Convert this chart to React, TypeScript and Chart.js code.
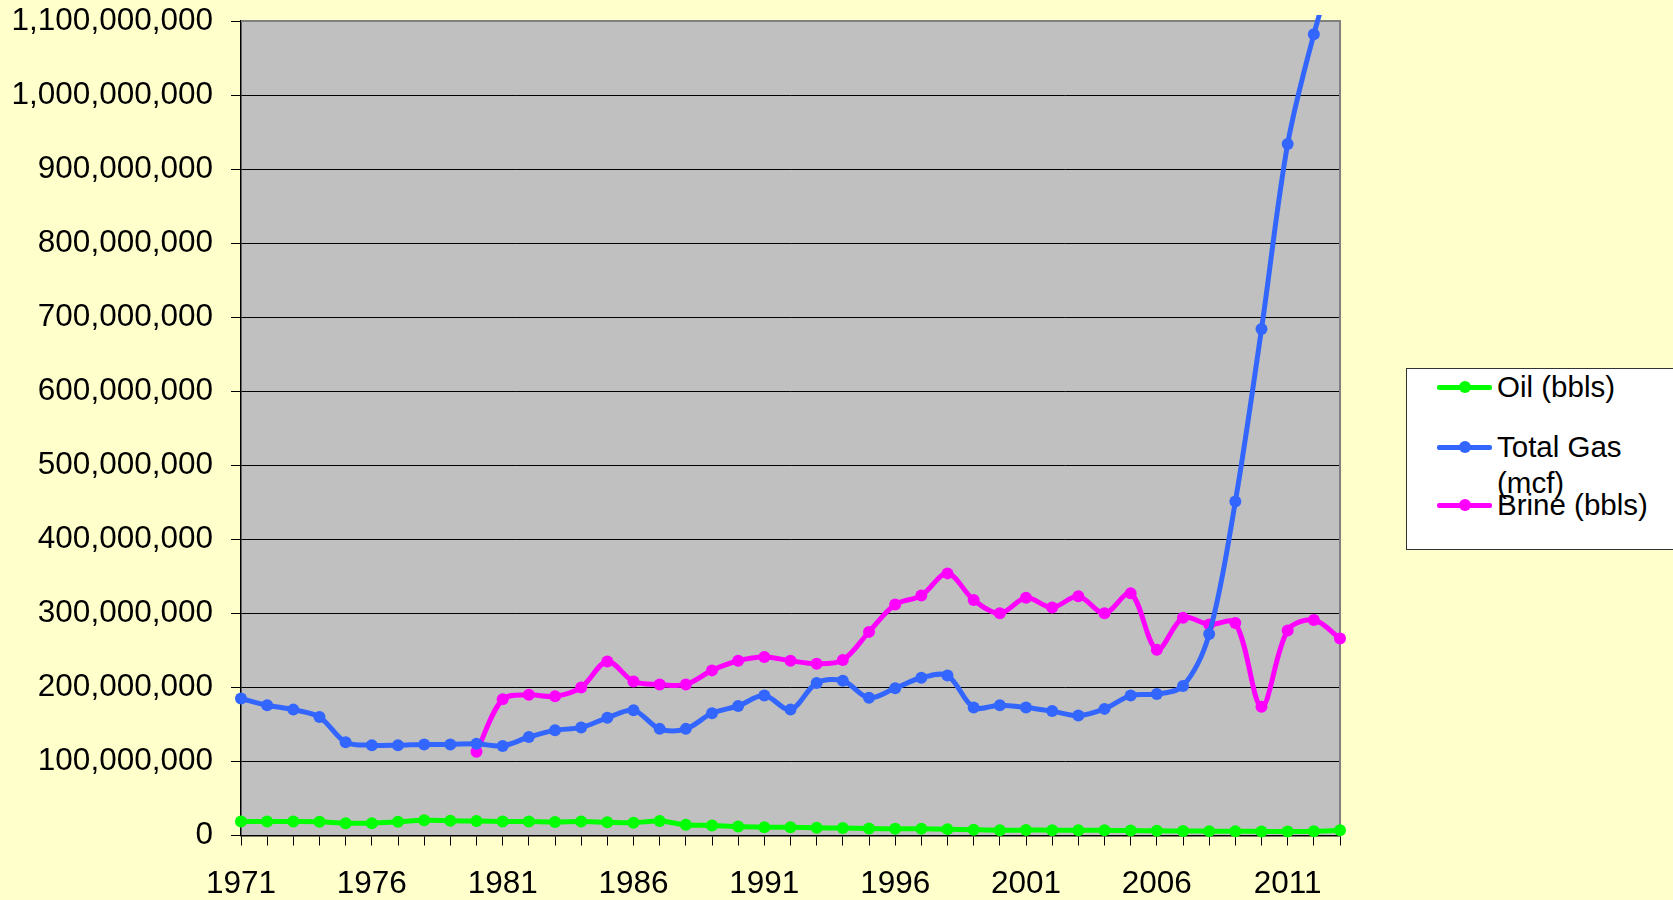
import React, { useEffect, useRef } from 'react';
import { Chart, registerables } from 'chart.js';

Chart.register(...registerables);

const years = [
  '1971', '1972', '1973', '1974', '1975', '1976', '1977', '1978', '1979', '1980',
  '1981', '1982', '1983', '1984', '1985', '1986', '1987', '1988', '1989', '1990',
  '1991', '1992', '1993', '1994', '1995', '1996', '1997', '1998', '1999', '2000',
  '2001', '2002', '2003', '2004', '2005', '2006', '2007', '2008', '2009', '2010',
  '2011', '2012', '2013',
];

const oilBbls = [
  19000000, 19000000, 19000000, 18700000, 16700000, 16700000, 18500000, 20500000, 20000000, 19500000,
  19000000, 18800000, 18300000, 18800000, 17800000, 17300000, 19500000, 14500000, 13500000, 12000000,
  11300000, 11000000, 10500000, 10000000, 9300000, 9200000, 9000000, 8600000, 7800000, 7200000,
  7300000, 7200000, 7100000, 7000000, 6700000, 6300000, 6000000, 5900000, 5800000, 5500000,
  5500000, 5800000, 7000000,
];

const totalGasMcf = [
  185000000, 176000000, 170000000, 160000000, 126000000, 122000000, 122000000, 123000000, 123000000, 124000000,
  121000000, 133000000, 142000000, 146000000, 159000000, 169000000, 144000000, 144000000, 165000000, 175000000,
  189000000, 170000000, 206000000, 209000000, 186000000, 199000000, 213000000, 216000000, 173000000, 176000000,
  173000000, 168000000, 162000000, 171000000, 189000000, 191000000, 202000000, 272000000, 451000000, 684000000,
  934000000, 1082000000, 1200000000,
];

const brineBbls = [
  null, null, null, null, null, null, null, null, null, 113000000,
  184000000, 190000000, 188000000, 200000000, 235000000, 208000000, 204000000, 204000000, 223000000, 236000000,
  241000000, 236000000, 232000000, 237000000, 275000000, 312000000, 324000000, 354000000, 318000000, 300000000,
  321000000, 308000000, 323000000, 300000000, 327000000, 251000000, 294000000, 285000000, 287000000, 174000000,
  277000000, 291000000, 266000000,
];

const seriesNames = ['Oil (bbls)', 'Total Gas (mcf)', 'Brine (bbls)'];
const seriesColors = ['#00FF00', '#3366FF', '#FF00FF'];

const yMin = 0;
const yMax = 1100000000;
const yStep = 100000000;
const labelEvery = 5;

const FONT = '"Liberation Sans", Arial, sans-serif';

export default function App() {
  const canvasRef = useRef<HTMLCanvasElement>(null);

  useEffect(() => {
    const plotDecor = {
      id: 'plotDecor',
      beforeDraw(chart: any) {
        const { ctx, chartArea: a } = chart;
        ctx.save();
        ctx.fillStyle = '#C0C0C0';
        ctx.fillRect(a.left, a.top, a.right - a.left, a.bottom - a.top);
        ctx.restore();
      },
      beforeDatasetsDraw(chart: any) {
        const { ctx, chartArea: a } = chart;
        ctx.save();
        ctx.strokeStyle = '#808080';
        ctx.lineWidth = 2;
        ctx.beginPath();
        ctx.moveTo(a.left, a.top);
        ctx.lineTo(a.right, a.top);
        ctx.lineTo(a.right, a.bottom);
        ctx.stroke();
        ctx.restore();
      },
    };

    const clip = { left: 8, right: 8, top: 6, bottom: 8 };
    const seriesData = [oilBbls, totalGasMcf, brineBbls];

    const chart = new Chart(canvasRef.current as HTMLCanvasElement, {
      type: 'line',
      data: {
        labels: years,
        datasets: seriesData.map((d, i) => ({
          label: seriesNames[i],
          data: d,
          borderColor: seriesColors[i],
          backgroundColor: seriesColors[i],
          pointBackgroundColor: seriesColors[i],
          pointBorderColor: seriesColors[i],
          pointBorderWidth: 0,
          pointRadius: 6,
          borderWidth: 5,
          tension: 0.33,
          fill: false,
          spanGaps: false,
          clip,
        })),
      },
      options: {
        responsive: false,
        devicePixelRatio: 1,
        animation: false,
        events: [],
        layout: { padding: { top: 21, right: 333, left: 0, bottom: 0 } },
        elements: { line: { capBezierPoints: false } },
        plugins: { legend: { display: false }, tooltip: { enabled: false } },
        scales: {
          x: {
            type: 'category',
            offset: false,
            grid: {
              display: true,
              drawOnChartArea: false,
              drawTicks: true,
              tickLength: 10,
              color: '#000000',
              lineWidth: 1,
            },
            border: { display: true, color: '#000000', width: 1.5 },
            ticks: {
              autoSkip: false,
              maxRotation: 0,
              minRotation: 0,
              padding: 20,
              color: '#000000',
              font: { family: FONT, size: 31.5 },
              callback: (_v: any, idx: number) => (idx % labelEvery === 0 ? years[idx] : ''),
            },
            afterFit: (scale: any) => {
              scale.height = 64.5;
              scale.paddingLeft = 0;
              scale.paddingRight = 0;
            },
          },
          y: {
            min: yMin,
            max: yMax,
            grid: {
              color: '#000000',
              lineWidth: 1,
              drawTicks: true,
              tickLength: 10,
            },
            border: { display: true, color: '#000000', width: 1.5 },
            ticks: {
              stepSize: yStep,
              padding: 18,
              color: '#000000',
              font: { family: FONT, size: 31.5 },
              callback: (v: any) => Number(v).toLocaleString('en-US'),
            },
            afterFit: (scale: any) => {
              scale.width = 241;
              scale.paddingTop = 0;
              scale.paddingBottom = 0;
            },
          },
        },
      },
      plugins: [plotDecor],
    });

    return () => chart.destroy();
  }, []);

  const legendRows = [
    { center: 387, lines: ['Oil (bbls)'] },
    { center: 447, lines: ['Total Gas', '(mcf)'] },
    { center: 505, lines: ['Brine (bbls)'] },
  ];

  return (
    <div
      style={{
        position: 'fixed',
        left: 0,
        top: 0,
        width: 1673,
        height: 900,
        background: '#FFFFCC',
        overflow: 'hidden',
        fontFamily: FONT,
      }}
    >
      <canvas ref={canvasRef} width={1673} height={900} style={{ position: 'absolute', left: 0, top: 0 }} />
      <div
        style={{
          position: 'absolute',
          left: 1406,
          top: 368,
          width: 300,
          height: 182,
          background: '#FFFFFF',
          border: '1px solid #333333',
          boxSizing: 'border-box',
        }}
      />
      {legendRows.map((row, i) => (
        <React.Fragment key={i}>
          <div
            style={{
              position: 'absolute',
              left: 1437,
              top: row.center - 2.5,
              width: 55,
              height: 5,
              background: seriesColors[i],
              borderRadius: 2,
            }}
          />
          <div
            style={{
              position: 'absolute',
              left: 1458.5,
              top: row.center - 6,
              width: 12,
              height: 12,
              borderRadius: '50%',
              background: seriesColors[i],
            }}
          />
          <div
            style={{
              position: 'absolute',
              left: 1497,
              top: row.center - 18,
              fontSize: 29.5,
              lineHeight: '36px',
              color: '#000000',
              whiteSpace: 'nowrap',
            }}
          >
            {row.lines.map((t, j) => (
              <div key={j}>{t}</div>
            ))}
          </div>
        </React.Fragment>
      ))}
    </div>
  );
}
